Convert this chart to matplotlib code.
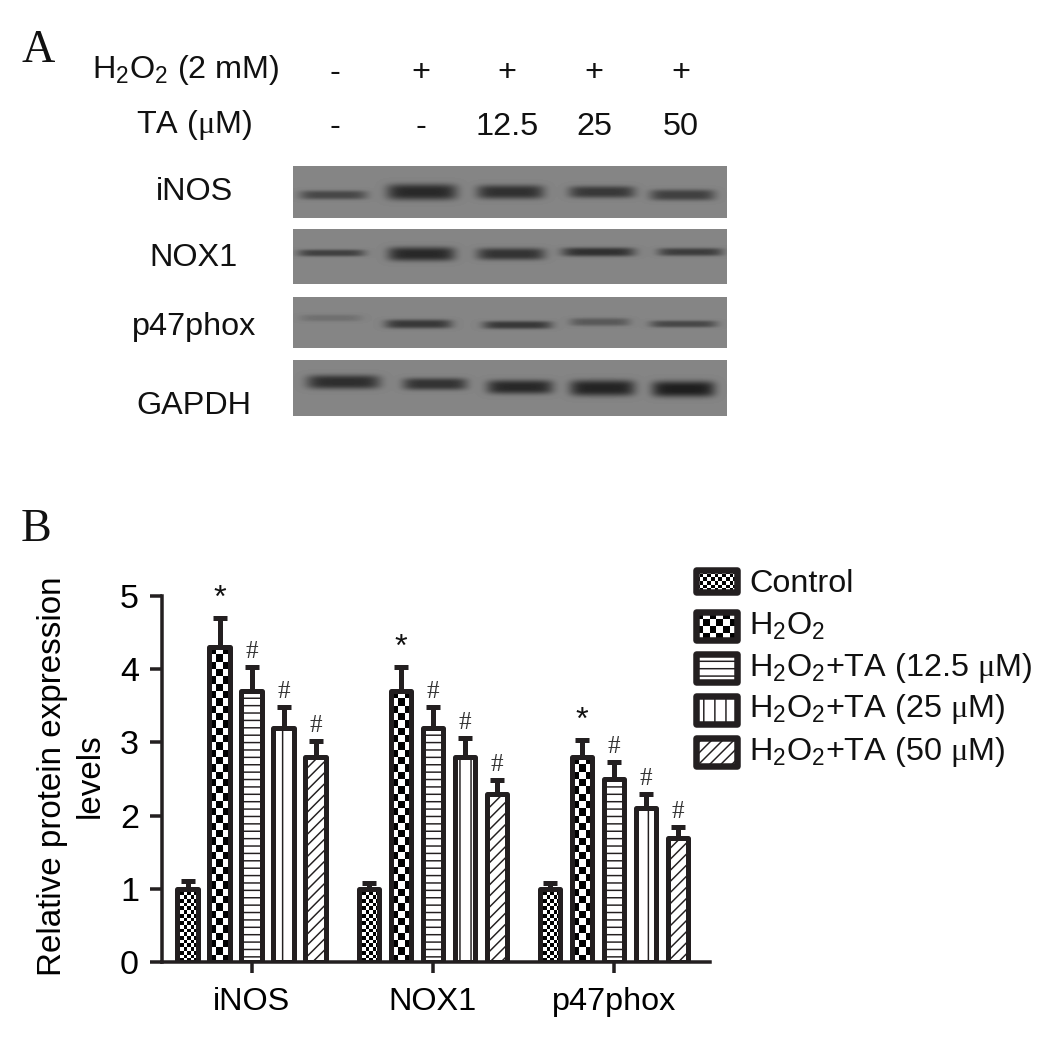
import numpy as np
import matplotlib
matplotlib.use("Agg")
import matplotlib.pyplot as plt
from matplotlib.patches import Rectangle

# Data
groups = ["iNOS", "NOX1", "p47phox"]
series = ["Control", "H$_2$O$_2$", "H$_2$O$_2$+TA (12.5 $\\mathit{\\mu}$M)",
          "H$_2$O$_2$+TA (25 $\\mathit{\\mu}$M)", "H$_2$O$_2$+TA (50 $\\mathit{\\mu}$M)"]
control = [1.0, 1.0, 1.0]
h2o2 = [4.3, 3.7, 2.8]
ta_125 = [3.7, 3.2, 2.5]
ta_25 = [3.2, 2.8, 2.1]
ta_50 = [2.8, 2.3, 1.7]
control_err = [0.1, 0.08, 0.08]
h2o2_err = [0.4, 0.33, 0.23]
ta_125_err = [0.33, 0.28, 0.23]
ta_25_err = [0.28, 0.26, 0.2]
ta_50_err = [0.22, 0.18, 0.15]
marks = ["", "*", "#", "#", "#"]
yticks = [0, 1, 2, 3, 4, 5]

h2o2_row = ["-", "+", "+", "+", "+"]
ta_row = ["-", "-", "12.5", "25", "50"]
blot_names = ["iNOS", "NOX1", "p47phox", "GAPDH"]

# blot rows: top, bottom (pixels)
blot_top = [166, 229, 297, 360]
blot_bottom = [218, 284, 348, 416]
# bands per row: left, right, centre y, half height, darkness
inos_bands = [(300, 367, 195, 4.5, 0.24), (387, 457, 192, 8.0, 0.36), (477, 544, 192, 7.0, 0.33),
              (569, 635, 192, 6.0, 0.30), (650, 715, 195, 5.5, 0.27)]
nox1_bands = [(298, 365, 253, 3.5, 0.27), (388, 455, 254, 7.0, 0.36), (477, 545, 254, 6.0, 0.32),
              (562, 635, 252, 4.5, 0.33), (658, 723, 252, 4.0, 0.28)]
p47_bands = [(300, 362, 318, 3.5, 0.08), (385, 452, 324, 4.5, 0.30), (483, 552, 325, 4.0, 0.30),
             (570, 630, 322, 4.0, 0.17), (650, 717, 324, 3.5, 0.24)]
gapdh_bands = [(307, 380, 382, 7.0, 0.34), (403, 467, 384, 6.0, 0.32), (487, 553, 387, 7.0, 0.36),
               (570, 635, 388, 8.0, 0.38), (652, 715, 389, 8.0, 0.40)]
all_bands = [inos_bands, nox1_bands, p47_bands, gapdh_bands]

DPI = 133
INK = "#231f20"
PT = 72 / DPI  # one picture pixel in points

plt.rcParams["font.family"] = ["Liberation Sans", "DejaVu Sans"]
plt.rcParams["mathtext.fontset"] = "custom"
plt.rcParams["mathtext.rm"] = "Liberation Sans"
plt.rcParams["mathtext.it"] = "Liberation Serif"
plt.rcParams["mathtext.default"] = "regular"
plt.rcParams["hatch.linewidth"] = 0.8
plt.rcParams["text.color"] = "#111111"

W, H = 1044, 1056
fig = plt.figure(figsize=(W / DPI, H / DPI), dpi=DPI)

# overlay in picture pixels for panel A, panel letters and the legend
page = fig.add_axes([0, 0, 1, 1])
page.set_xlim(0, W)
page.set_ylim(H, 0)
page.autoscale(False)
page.axis("off")

FS = 17.5


def checker(ax, x0, x1, y0, y1, nx, ny, zorder):
    cells = np.indices((ny, nx)).sum(axis=0) % 2
    ax.imshow(cells, extent=(x0, x1, y0, y1), aspect="auto", cmap="gray", vmin=0, vmax=1,
              interpolation="nearest", zorder=zorder)


# Panel A
page.text(38, 51, "A", family="Liberation Serif", fontsize=25, ha="center", va="center")
page.text(186, 70, "H$_2$O$_2$ (2 mM)", fontsize=FS, ha="center", va="center")
page.text(194, 125, "TA ($\\mathit{\\mu}$M)", fontsize=FS, ha="center", va="center")
lane_x = [335, 421, 507, 594, 681]
for x, a, b in zip(lane_x, h2o2_row, ta_row):
    page.text(x, 73, a, fontsize=FS, ha="center", va="center")
    page.text(x, 127, b, fontsize=FS, ha="center", va="center")

label_y = [192, 258, 327, 406]
for name, y in zip(blot_names, label_y):
    page.text(194, y, name, fontsize=FS, ha="center", va="center")

for top, bottom, bands in zip(blot_top, blot_bottom, all_bands):
    xx, yy = np.meshgrid(np.arange(293, 727) + 0.5, np.arange(top, bottom) + 0.5)
    img = np.full(xx.shape, 0.52)
    for left, right, yc, hh, dark in bands:
        xc, hw = (left + right) / 2, (right - left) / 2
        img -= dark * np.exp(-np.abs((xx - xc) / hw) ** 6) * np.exp(-np.abs((yy - yc) / hh) ** 3)
    page.imshow(img, extent=(293, 727, bottom, top), aspect="auto", cmap="gray", vmin=0, vmax=1,
                interpolation="bilinear")

# Panel B
page.text(36, 530, "B", family="Liberation Serif", fontsize=25, ha="center", va="center")

AX_L, AX_R, AX_T, AX_B = 162, 710, 596, 962
ax = fig.add_axes([AX_L / W, 1 - AX_B / H, (AX_R - AX_L) / W, (AX_B - AX_T) / H])
ax.patch.set_alpha(0)
GROUP_PX = 181.3
BAR_PX = 32
x_groups = np.arange(len(groups))
ax.set_xlim((AX_L - 251.5) / GROUP_PX, (AX_R - 251.5) / GROUP_PX)
ax.set_ylim(0, 5)
ax.autoscale(False)

values = [control, h2o2, ta_125, ta_25, ta_50]
errors = [control_err, h2o2_err, ta_125_err, ta_25_err, ta_50_err]
hatches = [None, None, "---", "||", "////"]
width = 20.5 / GROUP_PX
EDGE = 5 * PT
for i, (vals, errs, hatch, mark) in enumerate(zip(values, errors, hatches, marks)):
    x = x_groups + (i - 2) * BAR_PX / GROUP_PX
    bars = ax.bar(x, vals, width, facecolor="none", edgecolor=INK, linewidth=EDGE, hatch=hatch,
                  joinstyle="round", zorder=3)
    ax.errorbar(x, vals, yerr=[np.zeros(len(errs)), errs], fmt="none", ecolor=INK, elinewidth=EDGE,
                capsize=7.5 * PT, capthick=EDGE, zorder=2)
    for xi, v, e in zip(x, vals, errs):
        if i < 2:
            # checker fill under the bar outline
            ny = int(round(v * 73.2 / (3.7 if i == 0 else 7.3)))
            checker(ax, xi - width / 2, xi + width / 2, 0, v, 6 if i == 0 else 3, ny, 1)
        if mark == "*":
            ax.annotate(mark, (xi, v + e), xytext=(0, 19 * PT), textcoords="offset points",
                        fontsize=FS, ha="center", va="center")
        elif mark == "#":
            ax.annotate(mark, (xi, v + e), xytext=(0, 15 * PT), textcoords="offset points",
                        family="Liberation Serif", fontsize=13.5, color="#333333", ha="center", va="center")

ax.set_xticks(x_groups)
ax.set_xticklabels(groups, fontsize=FS)
ax.set_yticks(yticks)
ax.tick_params(axis="y", labelsize=FS + 1, length=12 * PT, width=3.5 * PT, color=INK, pad=11 * PT)
ax.tick_params(axis="x", length=11 * PT, width=3.5 * PT, color=INK, pad=14 * PT)
ax.spines["top"].set_visible(False)
ax.spines["right"].set_visible(False)
ax.spines["left"].set_linewidth(3.5 * PT)
ax.spines["bottom"].set_linewidth(3.5 * PT)
ax.spines["left"].set_color(INK)
ax.spines["bottom"].set_color(INK)
ax.set_ylabel("Relative protein expression\nlevels", fontsize=FS + 0.45, linespacing=1.3)
ax.yaxis.set_label_coords((106 - AX_L) / (AX_R - AX_L), (AX_B - 776) / (AX_B - AX_T))

# Legend
swatch_top = [570, 612, 654, 696, 738]
swatch_bottom = [592, 640, 682, 724, 766]
text_y = [584, 626, 668, 709, 752]
for i, name in enumerate(series):
    y0, y1 = swatch_top[i], swatch_bottom[i]
    if i < 2:
        cell = 3.7 if i == 0 else 7.3
        checker(page, 696, 737, y1, y0, int(round(41 / cell)), int(round((y1 - y0) / cell)), 1)
    page.add_patch(Rectangle((696, y0), 41, y1 - y0, facecolor="none", edgecolor=INK, linewidth=6.5 * PT,
                             hatch=hatches[i], joinstyle="round", zorder=3))
    page.text(749, text_y[i], name, fontsize=FS, ha="left", va="center")

fig.savefig("out.png", dpi=DPI)
